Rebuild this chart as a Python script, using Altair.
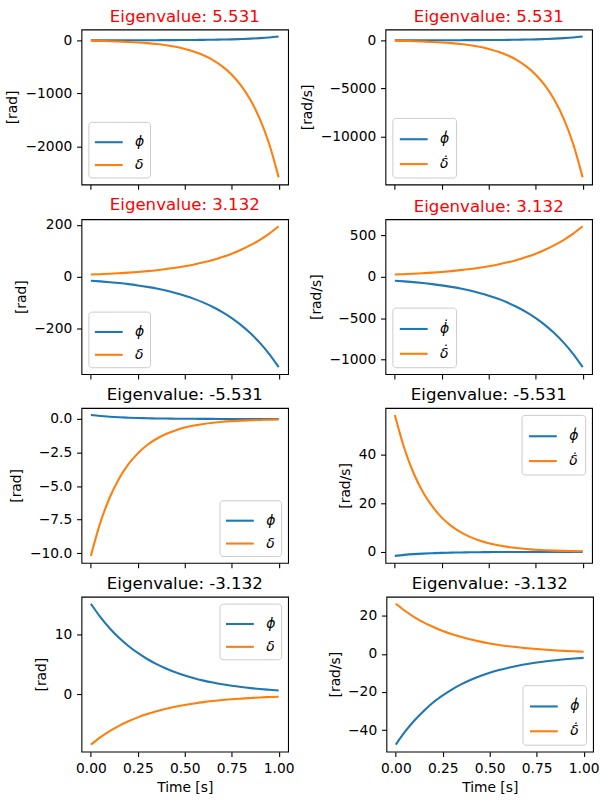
import altair as alt
import pandas as pd

# Time samples [s]
time_s = [0.00, 0.05, 0.10, 0.15, 0.20, 0.25, 0.30, 0.35, 0.40, 0.45, 0.50,
          0.55, 0.60, 0.65, 0.70, 0.75, 0.80, 0.85, 0.90, 0.95, 1.00]

eigenvalues = ["5.531", "3.132", "-5.531", "-3.132"]

# Mode 1 (eigenvalue 5.531)
phi_1 = [0.28, 0.37, 0.49, 0.64, 0.85, 1.12, 1.47, 1.94, 2.56, 3.37, 4.45,
         5.87, 7.74, 10.2, 13.5, 17.7, 23.4, 30.8, 40.7, 53.6, 70.7]
delta_1 = [-10.2, -13.4, -17.7, -23.4, -30.8, -40.7, -53.6, -70.7, -93.2, -123, -162,
           -214, -282, -372, -490, -646, -852, -1124, -1482, -1954, -2576]
phidot_1 = [1.55, 2.04, 2.70, 3.55, 4.69, 6.18, 8.15, 10.7, 14.2, 18.7, 24.6,
            32.5, 42.8, 56.5, 74.5, 98.2, 129.5, 170.8, 225.2, 296.9, 391.5]
deltadot_1 = [-56.4, -74.4, -98.1, -129, -171, -225, -297, -391, -516, -680, -896,
              -1182, -1559, -2055, -2710, -3574, -4712, -6214, -8193, -10804, -14246]

# Mode 2 (eigenvalue 3.132)
phi_2 = [-15.2, -17.8, -20.8, -24.3, -28.4, -33.3, -38.9, -45.5, -53.2, -62.2, -72.8,
         -85.1, -99.5, -116.4, -136.1, -159.2, -186.1, -217.7, -254.6, -297.7, -348.2]
delta_2 = [8.5, 9.94, 11.6, 13.6, 15.9, 18.6, 21.8, 25.4, 29.8, 34.8, 40.7,
           47.6, 55.6, 65.1, 76.1, 89.0, 104.1, 121.7, 142.4, 166.5, 194.7]
phidot_2 = [-47.6, -55.7, -65.1, -76.1, -89.1, -104.1, -121.8, -142.4, -166.6, -194.8, -227.8,
            -266.4, -311.6, -364.4, -426.2, -498.4, -582.9, -681.7, -797.3, -932.4, -1090.4]
deltadot_2 = [26.6, 31.1, 36.4, 42.6, 49.8, 58.2, 68.1, 79.6, 93.1, 108.9, 127.3,
              148.9, 174.1, 203.6, 238.2, 278.5, 325.7, 381.0, 445.5, 521.0, 609.4]

# Mode 3 (eigenvalue -5.531)
phi_3 = [0.30, 0.228, 0.173, 0.131, 0.099, 0.075, 0.057, 0.043, 0.033, 0.025, 0.019,
         0.014, 0.011, 0.008, 0.006, 0.005, 0.004, 0.003, 0.002, 0.002, 0.001]
delta_3 = [-10.2, -7.74, -5.87, -4.45, -3.37, -2.56, -1.94, -1.47, -1.12, -0.85, -0.64,
           -0.49, -0.37, -0.28, -0.21, -0.16, -0.12, -0.093, -0.070, -0.053, -0.040]
phidot_3 = [-1.66, -1.26, -0.95, -0.72, -0.55, -0.42, -0.32, -0.24, -0.18, -0.14, -0.10,
            -0.079, -0.060, -0.046, -0.035, -0.026, -0.020, -0.015, -0.011, -0.009, -0.007]
deltadot_3 = [56.4, 42.8, 32.4, 24.6, 18.7, 14.1, 10.7, 8.14, 6.17, 4.68, 3.55,
              2.69, 2.04, 1.55, 1.17, 0.89, 0.68, 0.51, 0.39, 0.29, 0.22]

# Mode 4 (eigenvalue -3.132)
phi_4 = [15.2, 13.0, 11.1, 9.50, 8.13, 6.95, 5.94, 5.08, 4.34, 3.71, 3.18,
         2.71, 2.32, 1.99, 1.70, 1.45, 1.24, 1.06, 0.91, 0.78, 0.66]
delta_4 = [-8.4, -7.18, -6.14, -5.25, -4.49, -3.84, -3.28, -2.81, -2.40, -2.05, -1.75,
           -1.50, -1.28, -1.10, -0.94, -0.80, -0.69, -0.59, -0.50, -0.43, -0.37]
phidot_4 = [-47.6, -40.7, -34.8, -29.8, -25.4, -21.8, -18.6, -15.9, -13.6, -11.6, -9.94,
            -8.50, -7.27, -6.22, -5.32, -4.55, -3.89, -3.32, -2.84, -2.43, -2.08]
deltadot_4 = [26.3, 22.5, 19.2, 16.4, 14.1, 12.0, 10.3, 8.79, 7.52, 6.43, 5.49,
              4.70, 4.02, 3.43, 2.94, 2.51, 2.15, 1.84, 1.57, 1.34, 1.15]

# Axis tick values per panel
ticks_rad = [[-2000, -1000, 0], [-200, 0, 200], [-10, -7.5, -5, -2.5, 0], [0, 10]]
ticks_rads = [[-10000, -5000, 0], [-1000, -500, 0, 500], [0, 20, 40], [-40, -20, 0, 20]]
time_ticks = [0, 0.25, 0.5, 0.75, 1.0]

legend_rad = ["bottom-left", "bottom-left", "bottom-right", "top-right"]
legend_rads = ["bottom-left", "bottom-left", "top-right", "bottom-right"]

# Gap between the two panels of each row; rows whose right-hand panel has
# narrower tick labels get a wider gap so that the right column lines up
# (the last row also carries the "1.00" time label past the left panel).
row_gap = [11, 20, 49, 32]

BLUE = "#1f77b4"
ORANGE = "#ff7f0e"
FONT = "DejaVu Sans"
PHI = "\u03d5"
DELTA = "\u03b4"
DOT = "\u0307"


def panel(phi, delta, labels, eig, unit, orient, yticks, yfmt, bottom, width, dotted):
    df = pd.DataFrame({
        "t": time_s + time_s,
        "value": phi + delta,
        "series": [labels[0]] * len(time_s) + [labels[1]] * len(time_s),
    })
    lo = min(phi + delta)
    hi = max(phi + delta)
    pad = 0.05 * (hi - lo)

    minus_fix = "replace(format(datum.value, '%s'), '-', '\u2212')"
    x_axis = alt.Axis(
        values=time_ticks,
        labels=bottom,
        title="Time [s]" if bottom else None,
        labelExpr=minus_fix % ".2f",
    )
    y_axis = alt.Axis(values=yticks, title=unit, labelExpr=minus_fix % yfmt)
    color = alt.Color(
        "series:N",
        scale=alt.Scale(domain=labels, range=[BLUE, ORANGE]),
        legend=alt.Legend(
            title=None,
            orient=orient,
            offset=7,
            padding=6 if dotted else 5,
            fillColor="rgba(255,255,255,0.8)",
            strokeColor="#cccccc",
            cornerRadius=3,
            symbolType="stroke",
            symbolSize=784,
            symbolStrokeWidth=2.1,
            labelFont=FONT,
            labelFontSize=14,
            labelFontStyle="italic",
            labelOffset=11,
            rowPadding=2 if dotted else -3,
        ),
    )
    base = alt.Chart(df).mark_line(strokeWidth=2.1, interpolate="monotone").encode(
        x=alt.X("t:Q", scale=alt.Scale(domain=[-0.05, 1.05], nice=False, zero=False), axis=x_axis),
        y=alt.Y("value:Q", scale=alt.Scale(domain=[lo - pad, hi + pad], nice=False, zero=False), axis=y_axis),
        color=color,
    )
    phi_line = base.transform_filter(alt.datum.series == labels[0])
    delta_line = base.transform_filter(alt.datum.series == labels[1])
    title_color = "red" if not eig.startswith("-") else "black"
    return alt.layer(phi_line, delta_line).properties(
        width=width,
        height=156,
        title=alt.TitleParams(
            "Eigenvalue: " + eig,
            color=title_color,
            fontSize=16.7,
            fontWeight="normal",
            font=FONT,
            anchor="middle",
            offset=4,
        ),
    )


modes = [
    (phi_1, delta_1, phidot_1, deltadot_1),
    (phi_2, delta_2, phidot_2, deltadot_2),
    (phi_3, delta_3, phidot_3, deltadot_3),
    (phi_4, delta_4, phidot_4, deltadot_4),
]

rows = []
for i, (p, d, pd_, dd) in enumerate(modes):
    bottom = i == len(modes) - 1
    left = panel(p, d, [PHI, DELTA], eigenvalues[i], "[rad]", legend_rad[i],
                 ticks_rad[i], ".1f" if i == 2 else "d", bottom, 208, False)
    right = panel(pd_, dd, [PHI + DOT, DELTA + DOT], eigenvalues[i], "[rad/s]",
                  legend_rads[i], ticks_rads[i], "d", bottom, 208, True)
    rows.append(
        alt.hconcat(left, right, spacing=row_gap[i])
        .resolve_scale(color="independent", x="independent", y="independent")
        .resolve_legend(color="independent")
    )

chart = (
    alt.vconcat(*rows, spacing=6)
    .resolve_scale(color="independent", x="independent", y="independent")
    .resolve_legend(color="independent")
    .configure(font=FONT, padding={"left": 5, "top": 5, "right": 0, "bottom": 2})
    .configure_view(stroke="black", strokeWidth=1.1)
    .configure_axis(
        grid=False,
        domain=False,
        labelFont=FONT,
        titleFont=FONT,
        labelFontSize=13.9,
        titleFontSize=13.9,
        titleFontWeight="normal",
        labelColor="black",
        titleColor="black",
        tickColor="black",
        tickWidth=1.1,
        tickSize=4.9,
        labelPadding=4.9,
        titlePadding=5.6,
        labelFlush=False,
        labelOverlap=False,
        labelBound=False,
    )
)

chart.save("out.html", embed_options={"renderer": "svg", "actions": False})
